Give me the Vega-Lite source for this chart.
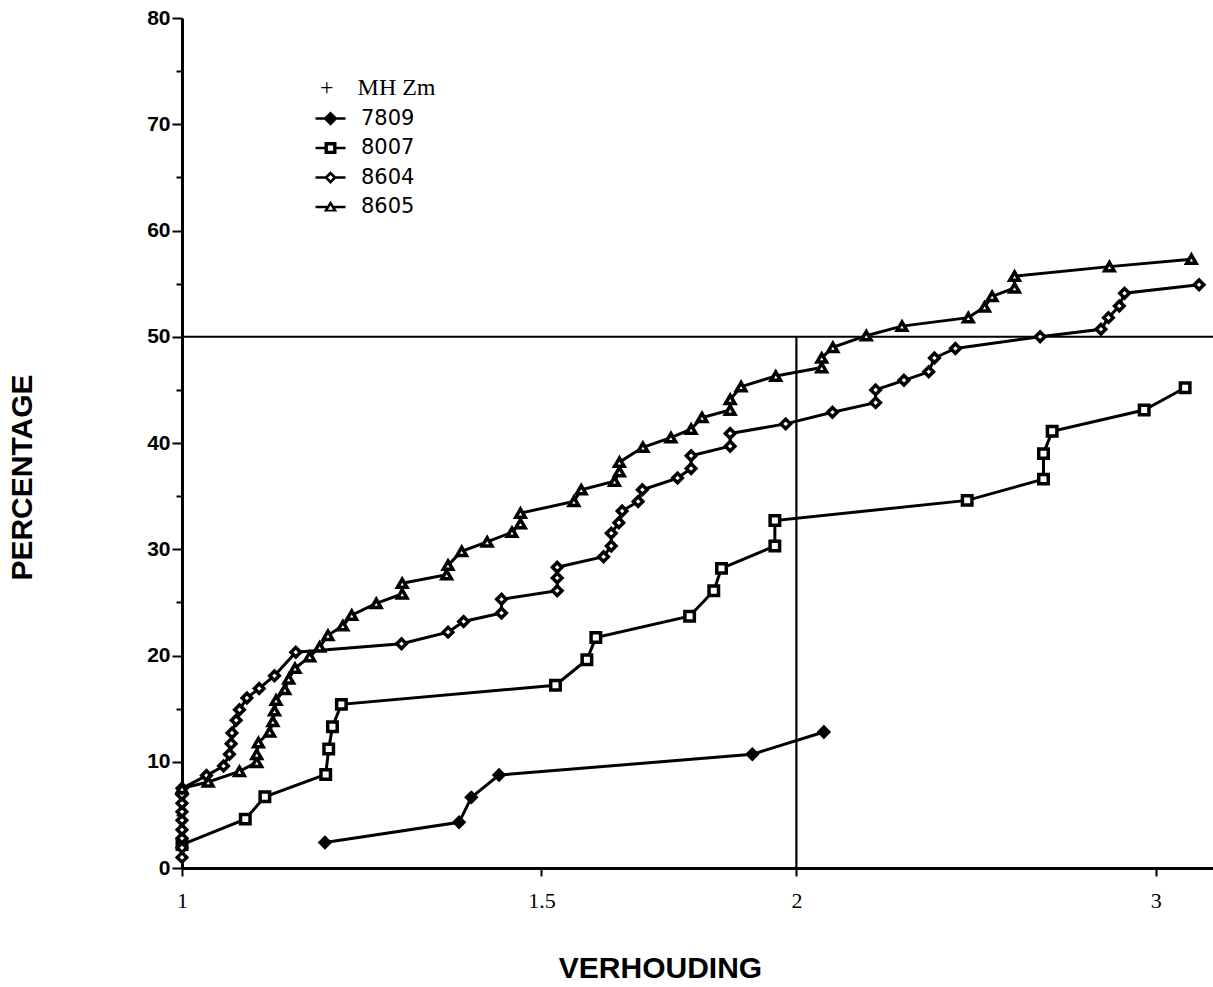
{
  "$schema": "https://vega.github.io/schema/vega-lite/v6.json",
  "width": 1031,
  "height": 850,
  "autosize": {"type": "none"},
  "padding": {"left": 182, "top": 18, "right": 0, "bottom": 119},
  "background": "white",
  "config": {"view": {"stroke": null}, "axis": {"grid": false}},
  "datasets": {
    "curves": [
      {"series": "7809", "i": 0, "x": 1.175, "y": 2.4},
      {"series": "7809", "i": 1, "x": 1.367, "y": 4.3},
      {"series": "7809", "i": 2, "x": 1.386, "y": 6.65},
      {"series": "7809", "i": 3, "x": 1.43, "y": 8.75},
      {"series": "7809", "i": 4, "x": 1.903, "y": 10.7},
      {"series": "7809", "i": 5, "x": 2.063, "y": 12.8},

      {"series": "8007", "i": 0, "x": 1.0, "y": 2.2},
      {"series": "8007", "i": 1, "x": 1.074, "y": 4.6},
      {"series": "8007", "i": 2, "x": 1.098, "y": 6.7},
      {"series": "8007", "i": 3, "x": 1.176, "y": 8.8},
      {"series": "8007", "i": 4, "x": 1.18, "y": 11.2},
      {"series": "8007", "i": 5, "x": 1.185, "y": 13.3},
      {"series": "8007", "i": 6, "x": 1.197, "y": 15.4},
      {"series": "8007", "i": 7, "x": 1.524, "y": 17.2},
      {"series": "8007", "i": 8, "x": 1.579, "y": 19.6},
      {"series": "8007", "i": 9, "x": 1.595, "y": 21.7},
      {"series": "8007", "i": 10, "x": 1.773, "y": 23.7},
      {"series": "8007", "i": 11, "x": 1.822, "y": 26.1},
      {"series": "8007", "i": 12, "x": 1.838, "y": 28.2},
      {"series": "8007", "i": 13, "x": 1.952, "y": 30.3},
      {"series": "8007", "i": 14, "x": 1.952, "y": 32.7},
      {"series": "8007", "i": 15, "x": 2.425, "y": 34.6},
      {"series": "8007", "i": 16, "x": 2.643, "y": 36.6},
      {"series": "8007", "i": 17, "x": 2.643, "y": 39.0},
      {"series": "8007", "i": 18, "x": 2.669, "y": 41.1},
      {"series": "8007", "i": 19, "x": 2.961, "y": 43.1},
      {"series": "8007", "i": 20, "x": 3.101, "y": 45.2},

      {"series": "8604", "i": 0, "x": 1.0, "y": 1.0},
      {"series": "8604", "i": 1, "x": 1.0, "y": 1.9},
      {"series": "8604", "i": 2, "x": 1.0, "y": 2.8},
      {"series": "8604", "i": 3, "x": 1.0, "y": 3.6},
      {"series": "8604", "i": 4, "x": 1.0, "y": 4.5},
      {"series": "8604", "i": 5, "x": 1.0, "y": 5.3},
      {"series": "8604", "i": 6, "x": 1.0, "y": 6.1},
      {"series": "8604", "i": 7, "x": 1.0, "y": 6.9},
      {"series": "8604", "i": 8, "x": 1.0, "y": 7.5},
      {"series": "8604", "i": 9, "x": 1.028, "y": 8.7},
      {"series": "8604", "i": 10, "x": 1.048, "y": 9.6},
      {"series": "8604", "i": 11, "x": 1.055, "y": 10.7},
      {"series": "8604", "i": 12, "x": 1.057, "y": 11.7},
      {"series": "8604", "i": 13, "x": 1.058, "y": 12.7},
      {"series": "8604", "i": 14, "x": 1.063, "y": 13.9},
      {"series": "8604", "i": 15, "x": 1.067, "y": 14.9},
      {"series": "8604", "i": 16, "x": 1.076, "y": 16.0},
      {"series": "8604", "i": 17, "x": 1.091, "y": 16.9},
      {"series": "8604", "i": 18, "x": 1.11, "y": 18.1},
      {"series": "8604", "i": 19, "x": 1.137, "y": 20.3},
      {"series": "8604", "i": 20, "x": 1.281, "y": 21.1},
      {"series": "8604", "i": 21, "x": 1.35, "y": 22.2},
      {"series": "8604", "i": 22, "x": 1.374, "y": 23.2},
      {"series": "8604", "i": 23, "x": 1.434, "y": 24.0},
      {"series": "8604", "i": 24, "x": 1.434, "y": 25.3},
      {"series": "8604", "i": 25, "x": 1.527, "y": 26.1},
      {"series": "8604", "i": 26, "x": 1.527, "y": 27.3},
      {"series": "8604", "i": 27, "x": 1.527, "y": 28.3},
      {"series": "8604", "i": 28, "x": 1.609, "y": 29.3},
      {"series": "8604", "i": 29, "x": 1.623, "y": 30.3},
      {"series": "8604", "i": 30, "x": 1.623, "y": 31.5},
      {"series": "8604", "i": 31, "x": 1.637, "y": 32.5},
      {"series": "8604", "i": 32, "x": 1.643, "y": 33.6},
      {"series": "8604", "i": 33, "x": 1.673, "y": 34.5},
      {"series": "8604", "i": 34, "x": 1.681, "y": 35.6},
      {"series": "8604", "i": 35, "x": 1.749, "y": 36.7},
      {"series": "8604", "i": 36, "x": 1.776, "y": 37.6},
      {"series": "8604", "i": 37, "x": 1.776, "y": 38.8},
      {"series": "8604", "i": 38, "x": 1.856, "y": 39.7},
      {"series": "8604", "i": 39, "x": 1.856, "y": 40.9},
      {"series": "8604", "i": 40, "x": 1.976, "y": 41.8},
      {"series": "8604", "i": 41, "x": 2.083, "y": 42.9},
      {"series": "8604", "i": 42, "x": 2.187, "y": 43.8},
      {"series": "8604", "i": 43, "x": 2.187, "y": 45.0},
      {"series": "8604", "i": 44, "x": 2.258, "y": 45.9},
      {"series": "8604", "i": 45, "x": 2.322, "y": 46.7},
      {"series": "8604", "i": 46, "x": 2.337, "y": 48.0},
      {"series": "8604", "i": 47, "x": 2.393, "y": 48.9},
      {"series": "8604", "i": 48, "x": 2.633, "y": 50.0},
      {"series": "8604", "i": 49, "x": 2.82, "y": 50.7},
      {"series": "8604", "i": 50, "x": 2.844, "y": 51.8},
      {"series": "8604", "i": 51, "x": 2.879, "y": 52.9},
      {"series": "8604", "i": 52, "x": 2.896, "y": 54.1},
      {"series": "8604", "i": 53, "x": 3.15, "y": 54.9},

      {"series": "8605", "i": 0, "x": 1.0, "y": 7.5},
      {"series": "8605", "i": 1, "x": 1.03, "y": 8.1},
      {"series": "8605", "i": 2, "x": 1.067, "y": 9.1},
      {"series": "8605", "i": 3, "x": 1.088, "y": 9.95},
      {"series": "8605", "i": 4, "x": 1.088, "y": 10.7},
      {"series": "8605", "i": 5, "x": 1.09, "y": 11.8},
      {"series": "8605", "i": 6, "x": 1.104, "y": 12.8},
      {"series": "8605", "i": 7, "x": 1.108, "y": 13.8},
      {"series": "8605", "i": 8, "x": 1.11, "y": 14.8},
      {"series": "8605", "i": 9, "x": 1.112, "y": 15.8},
      {"series": "8605", "i": 10, "x": 1.123, "y": 16.8},
      {"series": "8605", "i": 11, "x": 1.128, "y": 17.8},
      {"series": "8605", "i": 12, "x": 1.136, "y": 18.8},
      {"series": "8605", "i": 13, "x": 1.155, "y": 19.9},
      {"series": "8605", "i": 14, "x": 1.168, "y": 20.8},
      {"series": "8605", "i": 15, "x": 1.179, "y": 21.9},
      {"series": "8605", "i": 16, "x": 1.199, "y": 22.8},
      {"series": "8605", "i": 17, "x": 1.211, "y": 23.8},
      {"series": "8605", "i": 18, "x": 1.245, "y": 24.9},
      {"series": "8605", "i": 19, "x": 1.282, "y": 25.8},
      {"series": "8605", "i": 20, "x": 1.282, "y": 26.8},
      {"series": "8605", "i": 21, "x": 1.348, "y": 27.6},
      {"series": "8605", "i": 22, "x": 1.35, "y": 28.5},
      {"series": "8605", "i": 23, "x": 1.371, "y": 29.8},
      {"series": "8605", "i": 24, "x": 1.411, "y": 30.7},
      {"series": "8605", "i": 25, "x": 1.451, "y": 31.6},
      {"series": "8605", "i": 26, "x": 1.465, "y": 32.4},
      {"series": "8605", "i": 27, "x": 1.465, "y": 33.4},
      {"series": "8605", "i": 28, "x": 1.556, "y": 34.5},
      {"series": "8605", "i": 29, "x": 1.569, "y": 35.6},
      {"series": "8605", "i": 30, "x": 1.629, "y": 36.4},
      {"series": "8605", "i": 31, "x": 1.638, "y": 37.3},
      {"series": "8605", "i": 32, "x": 1.638, "y": 38.2},
      {"series": "8605", "i": 33, "x": 1.682, "y": 39.6},
      {"series": "8605", "i": 34, "x": 1.736, "y": 40.5},
      {"series": "8605", "i": 35, "x": 1.776, "y": 41.3},
      {"series": "8605", "i": 36, "x": 1.798, "y": 42.4},
      {"series": "8605", "i": 37, "x": 1.856, "y": 43.1},
      {"series": "8605", "i": 38, "x": 1.856, "y": 44.1},
      {"series": "8605", "i": 39, "x": 1.879, "y": 45.3},
      {"series": "8605", "i": 40, "x": 1.954, "y": 46.3},
      {"series": "8605", "i": 41, "x": 2.058, "y": 47.1},
      {"series": "8605", "i": 42, "x": 2.058, "y": 48.0},
      {"series": "8605", "i": 43, "x": 2.084, "y": 49.0},
      {"series": "8605", "i": 44, "x": 2.164, "y": 50.1},
      {"series": "8605", "i": 45, "x": 2.253, "y": 51.0},
      {"series": "8605", "i": 46, "x": 2.428, "y": 51.8},
      {"series": "8605", "i": 47, "x": 2.473, "y": 52.8},
      {"series": "8605", "i": 48, "x": 2.494, "y": 53.8},
      {"series": "8605", "i": 49, "x": 2.558, "y": 54.6},
      {"series": "8605", "i": 50, "x": 2.558, "y": 55.7},
      {"series": "8605", "i": 51, "x": 2.847, "y": 56.6},
      {"series": "8605", "i": 52, "x": 3.123, "y": 57.3}
    ]
  },
  "encoding": {
    "x": {
      "field": "x",
      "type": "quantitative",
      "scale": {"type": "log", "domain": [1, 3.2], "nice": false},
      "axis": {
        "values": [1, 1.5, 2, 3],
        "labelExpr": "toString(datum.value)",
        "title": "VERHOUDING",
        "titleFont": "Liberation Sans",
        "titleFontSize": 30,
        "titleFontWeight": "bold",
        "titleColor": "black",
        "titleX": 478,
        "titleY": 100,
        "titleBaseline": "middle",
        "labelFont": "Liberation Serif",
        "labelFontSize": 22,
        "labelColor": "black",
        "labelPadding": 14,
        "labelFlush": false,
        "domainColor": "black",
        "domainWidth": 3,
        "tickColor": "black",
        "tickWidth": 2,
        "tickSize": 8
      }
    },
    "y": {
      "field": "y",
      "type": "quantitative",
      "scale": {"domain": [0, 80], "nice": false},
      "axis": {
        "values": [0, 5, 10, 15, 20, 25, 30, 35, 40, 45, 50, 55, 60, 65, 70, 75, 80],
        "labelExpr": "datum.value % 10 === 0 ? datum.label : ''",
        "title": "PERCENTAGE",
        "titleFont": "Liberation Sans",
        "titleFontSize": 30,
        "titleFontWeight": "bold",
        "titleColor": "black",
        "titleX": -160,
        "titleY": 459,
        "titleAngle": -90,
        "titleAlign": "center",
        "titleBaseline": "middle",
        "labelFont": "Liberation Sans",
        "labelFontSize": 21,
        "labelFontWeight": "bold",
        "labelColor": "black",
        "labelPadding": 2,
        "labelFlush": false,
        "domainColor": "black",
        "domainWidth": 3,
        "tickColor": "black",
        "tickWidth": 2,
        "tickSize": {"condition": {"test": "datum.value % 10 === 0", "value": 10}, "value": 6}
      }
    }
  },
  "resolve": {"scale": {"shape": "independent", "fill": "independent"}},
  "layer": [
    {
      "data": {"values": [{"x": 1, "x2": 3.2, "y": 50}]},
      "mark": {"type": "rule", "color": "black", "strokeWidth": 2.2},
      "encoding": {"x2": {"field": "x2"}}
    },
    {
      "data": {"values": [{"x": 2, "y": 0, "y2": 50}]},
      "mark": {"type": "rule", "color": "black", "strokeWidth": 2.2},
      "encoding": {"y2": {"field": "y2"}}
    },
    {
      "data": {"name": "curves"},
      "mark": {"type": "line", "color": "black", "strokeWidth": 3},
      "encoding": {
        "detail": {"field": "series", "type": "nominal"},
        "order": {"field": "i", "type": "quantitative"}
      }
    },
    {
      "data": {"name": "curves"},
      "mark": {"type": "point", "filled": true, "stroke": "black", "strokeWidth": 3.5, "size": 90, "opacity": 1},
      "encoding": {
        "shape": {
          "field": "series",
          "type": "nominal",
          "scale": {"domain": ["8605", "8604", "8007", "7809"], "range": ["triangle-up", "diamond", "square", "diamond"]},
          "legend": null
        },
        "fill": {
          "field": "series",
          "type": "nominal",
          "scale": {"domain": ["8605", "8604", "8007", "7809"], "range": ["white", "white", "white", "black"]},
          "legend": null
        }
      }
    },
    {
      "data": {"name": "curves"},
      "transform": [{"filter": "datum.i < 0"}],
      "mark": {"type": "point", "filled": true, "strokeWidth": 0, "opacity": 1},
      "encoding": {
        "shape": {
          "field": "series",
          "type": "nominal",
          "scale": {
            "domain": ["7809", "8007", "8604", "8605"],
            "range": [
              "M-2,-0.17H-0.8V0.17H-2Z M0.8,-0.17H2V0.17H0.8Z M-0.95,0L0,-0.95L0.95,0L0,0.95Z",
              "M-2,-0.17H-0.7V0.17H-2Z M0.7,-0.17H2V0.17H0.7Z M-0.8,-0.8H0.8V0.8H-0.8Z M-0.35,-0.35V0.35H0.35V-0.35Z",
              "M-2,-0.17H-0.7V0.17H-2Z M0.7,-0.17H2V0.17H0.7Z M-0.85,0L0,-0.85L0.85,0L0,0.85Z M-0.35,0L0,0.35L0.35,0L0,-0.35Z",
              "M-2,-0.17H-0.45V0.17H-2Z M0.45,-0.17H2V0.17H0.45Z M0,-0.85L0.9,0.6L-0.9,0.6Z M0,-0.2L-0.35,0.35L0.35,0.35Z"
            ]
          },
          "legend": {
            "orient": "none",
            "legendX": 138,
            "legendY": 58,
            "title": "\u00a0\u00a0+\u00a0\u00a0\u00a0\u00a0MH Zm",
            "titleFont": "Liberation Serif",
            "titleFontSize": 24,
            "titleFontWeight": "normal",
            "titleColor": "black",
            "titlePadding": 8,
            "labelFont": "DejaVu Sans",
            "labelFontSize": 21,
            "labelColor": "black",
            "labelOffset": 20,
            "symbolSize": 225,
            "symbolOpacity": 1,
            "symbolStrokeWidth": 0,
            "rowPadding": 7.5,
            "padding": 0
          }
        },
        "fill": {
          "field": "series",
          "type": "nominal",
          "scale": {"domain": ["7809", "8007", "8604", "8605"], "range": ["black", "black", "black", "black"]}
        }
      }
    }
  ]
}
